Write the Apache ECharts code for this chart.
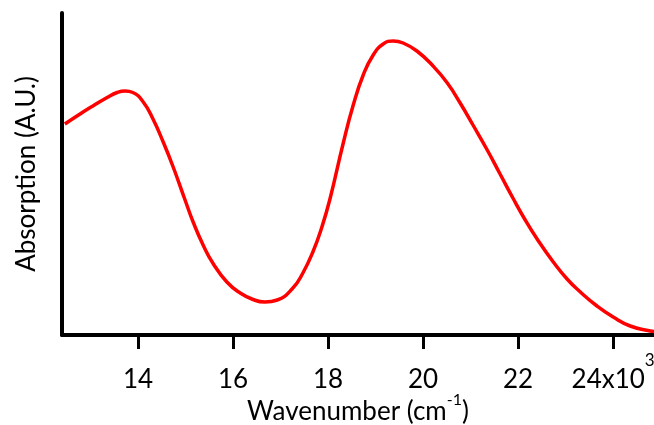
<!DOCTYPE html>
<html>
<head>
<meta charset="utf-8">
<script src="https://cdn.jsdelivr.net/npm/echarts@6/dist/echarts.min.js"></script>
<style>html,body{margin:0;padding:0;background:#fff}#c{width:654px;height:425px}</style>
</head>
<body>
<div id="c"></div>
<script>
// wavenumber (x10^3 cm^-1)
const wavenumber = [12.46,12.78,13.05,13.35,13.56,13.73,13.89,14.11,14.32,14.53,14.74,14.99,15.16,15.37,15.58,15.87,16.15,16.42,16.67,16.93,17.26,17.47,17.68,17.87,18.04,18.32,18.53,18.74,18.95,19.16,19.37,19.58,19.87,20.21,20.51,20.78,21.05,21.35,21.62,21.89,22.15,22.40,22.74,23.03,23.31,23.66,24.00,24.36,24.78,24.86];
// absorption (arbitrary units)
const absorption = [2.11,2.21,2.29,2.375,2.425,2.44,2.425,2.33,2.155,1.93,1.68,1.35,1.13,0.90,0.715,0.53,0.42,0.355,0.33,0.35,0.47,0.62,0.83,1.08,1.36,1.92,2.30,2.60,2.80,2.91,2.94,2.92,2.84,2.69,2.52,2.32,2.10,1.85,1.61,1.37,1.15,0.96,0.73,0.56,0.43,0.29,0.18,0.09,0.04,0.035];
const xTicks = [14,16,18,20,22,24];
const xTitle = 'Wavenumber (cm';
const yTitle = 'Absorption (A.U.)';

const FONT = 'Lato';
const chart = echarts.init(document.getElementById('c'), null, {renderer:'canvas'});
chart.setOption({
  animation:false,
  backgroundColor:'#fff',
  grid:{left:62,right:0,top:13,bottom:90,containLabel:false,outerBoundsMode:'none'},
  xAxis:{
    type:'value', min:12.4, max:24.86,
    name: '{n|' + xTitle + '}{sup|-1}{n|)}',
    nameLocation:'middle', nameGap:57, nameMoveOverlap:false,
    nameTextStyle:{fontFamily:FONT,fontSize:26,color:'#000',
      rich:{
        n:{fontFamily:FONT,fontSize:26,color:'#000',lineHeight:40},
        sup:{fontFamily:FONT,fontSize:16,color:'#000',lineHeight:16,verticalAlign:'top'}}},
    axisLine:{show:true,onZero:false,lineStyle:{color:'#000',width:4}},
    axisTick:{show:true,length:14,inside:false,customValues:xTicks,lineStyle:{color:'#000',width:3}},
    axisLabel:{show:true,margin:17,customValues:xTicks,fontFamily:FONT,fontSize:26,color:'#000',
      formatter:function(v){return v===24 ? '{n|24x10}{sup|3}' : '{n|' + v + '}';},
      rich:{
        n:{fontFamily:FONT,fontSize:26,color:'#000',lineHeight:56},
        sup:{fontFamily:FONT,fontSize:17,color:'#000',lineHeight:17,verticalAlign:'top'}}},
    splitLine:{show:false}
  },
  yAxis:{
    type:'value', min:0, max:3.22,
    name:yTitle, nameLocation:'middle', nameGap:22, nameMoveOverlap:false,
    nameTextStyle:{fontFamily:FONT,fontSize:26,color:'#000'},
    axisLine:{show:true,lineStyle:{color:'#000',width:4}},
    axisTick:{show:false}, axisLabel:{show:false}, splitLine:{show:false}
  },
  series:[{
    type:'line', smooth:true, symbol:'none',
    data: wavenumber.map((x,i)=>[x,absorption[i]]),
    lineStyle:{color:'#ff0000',width:3.5}
  }]
});
</script>
</body>
</html>
